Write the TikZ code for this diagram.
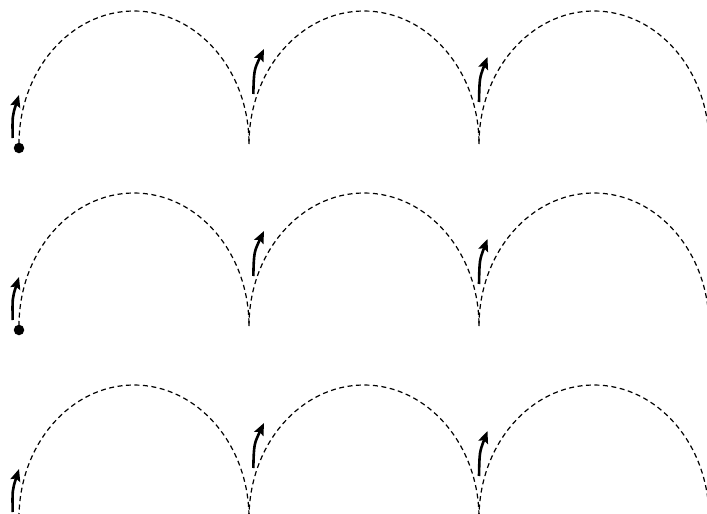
\documentclass[tikz,border=0pt]{standalone}
\usetikzlibrary{arrows.meta}
\begin{document}
\begin{tikzpicture}[x=1pt,y=-1pt,
  trail/.style={line width=1.2pt, dash pattern=on 5pt off 3.5pt},
  vel/.style={line width=2.6pt, -{Stealth[length=12pt,width=10pt,inset=2pt]}},
  startdot/.style={circle, fill=black, inner sep=0pt, minimum size=10.5pt}
]
\useasboundingbox (0,0) rectangle (707,514);
\clip (0,0) rectangle (707,514);
\foreach \dy in {0,182,374} {
  \begin{scope}[shift={(0,\dy)}]
    % dashed arches
    \draw[trail] (19,144) arc[start angle=180, end angle=360, x radius=115, y radius=133];
    \draw[trail] (249,144) arc[start angle=180, end angle=360, x radius=115, y radius=133];
    \draw[trail] (479,144) arc[start angle=180, end angle=360, x radius=115, y radius=133];
    % start dot
    \node[startdot] (d) at (19,148) {};
    % velocity arrows
    \coordinate (a1) at (12.7,138);
    \coordinate (b1) at (19,95);
    \coordinate (a2) at (253.3,94);
    \coordinate (b2) at (264,49);
    \coordinate (a3) at (479,102);
    \coordinate (b3) at (487.5,57);
    \draw[vel] (a1) .. controls (12.3,116) .. (b1);
    \draw[vel] (a2) .. controls (254,70) .. (b2);
    \draw[vel] (a3) .. controls (479.5,78) .. (b3);
  \end{scope}
}
\end{tikzpicture}
\end{document}
